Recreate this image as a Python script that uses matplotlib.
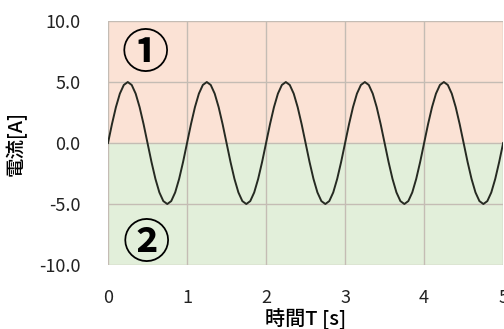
import matplotlib
matplotlib.use('Agg')
import matplotlib.pyplot as plt

plt.rcParams['font.family'] = ['Noto Sans CJK JP', 'DejaVu Sans']

# time [s], 0.05 s steps
time_s = [i * 0.05 for i in range(101)]
# current [A]
current = [
    0.00, 1.55, 2.94, 4.05, 4.76, 5.00, 4.76, 4.05, 2.94, 1.55,
    0.00, -1.55, -2.94, -4.05, -4.76, -5.00, -4.76, -4.05, -2.94, -1.55,
    0.00, 1.55, 2.94, 4.05, 4.76, 5.00, 4.76, 4.05, 2.94, 1.55,
    0.00, -1.55, -2.94, -4.05, -4.76, -5.00, -4.76, -4.05, -2.94, -1.55,
    0.00, 1.55, 2.94, 4.05, 4.76, 5.00, 4.76, 4.05, 2.94, 1.55,
    0.00, -1.55, -2.94, -4.05, -4.76, -5.00, -4.76, -4.05, -2.94, -1.55,
    0.00, 1.55, 2.94, 4.05, 4.76, 5.00, 4.76, 4.05, 2.94, 1.55,
    0.00, -1.55, -2.94, -4.05, -4.76, -5.00, -4.76, -4.05, -2.94, -1.55,
    0.00, 1.55, 2.94, 4.05, 4.76, 5.00, 4.76, 4.05, 2.94, 1.55,
    0.00, -1.55, -2.94, -4.05, -4.76, -5.00, -4.76, -4.05, -2.94, -1.55,
    0.00,
]

x_ticks = [0, 1, 2, 3, 4, 5]
y_ticks = [-10, -5, 0, 5, 10]
y_tick_labels = ['-10.0', '-5.0', '0.0', '5.0', '10.0']
region_labels = ['①', '②']

fig = plt.figure(figsize=(5.04, 3.29), dpi=100)
ax = fig.add_axes([0.2143, 0.1945, 0.784, 0.7415])

ax.axhspan(0, 10, color='#fbe2d5', zorder=0)
ax.axhspan(-10, 0, color='#e2efda', zorder=0)

ax.plot(time_s, current, color='#262a22', linewidth=1.4, zorder=3)

ax.set_xlim(0, 5)
ax.set_ylim(-10, 10)
ax.set_xticks(x_ticks)
ax.set_yticks(y_ticks)
ax.set_yticklabels(y_tick_labels)
ax.grid(True, color='#c4bcb4', linewidth=1.0, zorder=1)
ax.set_axisbelow(False)
for s in ax.spines.values():
    s.set_visible(False)
ax.tick_params(length=0, labelsize=13, colors='#222222')
ax.tick_params(axis='y', pad=20)
ax.tick_params(axis='x', pad=17)

ax.text(0.47, 7.3, region_labels[0], fontsize=34, fontweight='bold',
        ha='center', va='center', zorder=4)
ax.text(0.48, -8.3, region_labels[1], fontsize=34, fontweight='bold',
        ha='center', va='center', zorder=4)

ax.set_xlabel('時間T [s]', fontsize=14.5, fontweight='medium', labelpad=1)
ax.set_ylabel('電流[A]', fontsize=14, fontweight='medium', labelpad=9)

fig.savefig('out.png', dpi=100)
plt.close()
